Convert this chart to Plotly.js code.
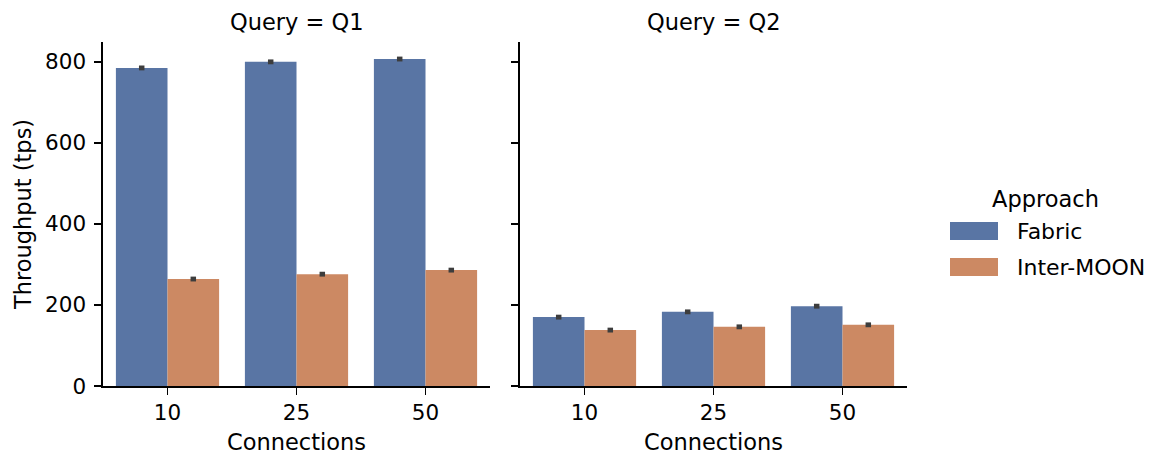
<!DOCTYPE html>
<html>
<head>
<meta charset="utf-8">
<script src="https://cdn.plot.ly/plotly-3.0.1.min.js"></script>
<style>html,body{margin:0;padding:0;background:#fff;}#chart{width:1158px;height:457px;}</style>
</head>
<body>
<div id="chart"></div>
<script>
var connections = ["10", "25", "50"];
var queries = ["Q1", "Q2"];
var approaches = ["Fabric", "Inter-MOON"];
var q1Fabric = [785, 800, 807];
var q1InterMoon = [264, 276, 286];
var q2Fabric = [170, 183, 197];
var q2InterMoon = [138, 146, 151];
var q1FabricErr = [6, 6, 6];
var q1InterMoonErr = [6, 6, 6];
var q2FabricErr = [6, 6, 6];
var q2InterMoonErr = [6, 6, 6];
var yTicks = [0, 200, 400, 600, 800];

var colors = {"Fabric": "#5975a4", "Inter-MOON": "#cc8963"};
var ink = "#000000";
var FONT = "DejaVu Sans, sans-serif";

function barTrace(name, vals, errs, xa, ya) {
  return {
    type: "bar", name: name, x: connections, y: vals,
    xaxis: xa, yaxis: ya, showlegend: false,
    marker: {color: colors[name], line: {width: 0}},
    error_y: {type: "data", array: errs, visible: true, color: "#3d3d3d", thickness: 5.5, width: 0},
    hoverinfo: "x+y+name"
  };
}

var data = [
  barTrace("Fabric", q1Fabric, q1FabricErr, "x", "y"),
  barTrace("Inter-MOON", q1InterMoon, q1InterMoonErr, "x", "y"),
  barTrace("Fabric", q2Fabric, q2FabricErr, "x2", "y2"),
  barTrace("Inter-MOON", q2InterMoon, q2InterMoonErr, "x2", "y2")
];

var W = 1158, H = 457;
var xd1 = [103 / W, 490 / W];
var xd2 = [520 / W, 907 / W];
var yd = [(H - 386) / H, (H - 42) / H];

function xAxis(domain, anchor) {
  return {
    domain: domain, anchor: anchor, type: "category", range: [-0.5, 2.5],
    showline: true, linecolor: ink, linewidth: 1.6, mirror: false,
    ticks: "outside", ticklen: 7, tickwidth: 1.6, tickcolor: ink,
    showgrid: false, zeroline: false,
    tickfont: {family: FONT, size: 21.5, color: ink},
    title: {text: "Connections", font: {family: FONT, size: 22.5, color: ink}, standoff: 10}
  };
}
function yAxis(anchor, labels) {
  var a = {
    domain: yd, anchor: anchor, range: [0, 849],
    tickvals: yTicks, ticktext: yTicks.map(String),
    showline: true, linecolor: ink, linewidth: 1.6,
    ticks: "outside", ticklen: 7, tickwidth: 1.6, tickcolor: ink,
    showgrid: false, zeroline: false, showticklabels: labels,
    ticklabelstandoff: 4,
    tickfont: {family: FONT, size: 21.5, color: ink}
  };
  if (labels) a.title = {text: "Throughput (tps)", font: {family: FONT, size: 22.5, color: ink}, standoff: 7};
  return a;
}

var annotations = [
  {text: "Query = " + queries[0], xref: "paper", yref: "paper", x: (xd1[0] + xd1[1]) / 2, y: 1 - 22 / H,
   xanchor: "center", yanchor: "middle", showarrow: false, font: {family: FONT, size: 22.5, color: ink}},
  {text: "Query = " + queries[1], xref: "paper", yref: "paper", x: (xd2[0] + xd2[1]) / 2, y: 1 - 22 / H,
   xanchor: "center", yanchor: "middle", showarrow: false, font: {family: FONT, size: 22.5, color: ink}},
  {text: "Approach", xref: "paper", yref: "paper", x: 1045 / W, y: 1 - 199 / H,
   xanchor: "center", yanchor: "middle", showarrow: false, font: {family: FONT, size: 22.5, color: ink}}
];
var shapes = [];
var legendY = [231, 267];
approaches.forEach(function (a, i) {
  shapes.push({type: "rect", xref: "paper", yref: "paper", x0: 950 / W, x1: 998 / W,
    y0: 1 - (legendY[i] + 9) / H, y1: 1 - (legendY[i] - 9) / H,
    fillcolor: colors[a], line: {width: 0}});
  annotations.push({text: a, xref: "paper", yref: "paper", x: 1015 / W, y: 1 - legendY[i] / H,
    xanchor: "left", yanchor: "middle", showarrow: false, font: {family: FONT, size: 22, color: ink}});
});

var layout = {
  width: W, height: H,
  margin: {l: 0, r: 0, t: 0, b: 0},
  paper_bgcolor: "#ffffff", plot_bgcolor: "#ffffff",
  barmode: "group", bargap: 0.2, bargroupgap: 0,
  showlegend: false,
  xaxis: xAxis(xd1, "y"),
  xaxis2: xAxis(xd2, "y2"),
  yaxis: yAxis("x", true),
  yaxis2: yAxis("x2", false),
  annotations: annotations,
  shapes: shapes,
  font: {family: FONT, color: ink}
};

Plotly.newPlot("chart", data, layout, {displayModeBar: false, staticPlot: true});
</script>
</body>
</html>
